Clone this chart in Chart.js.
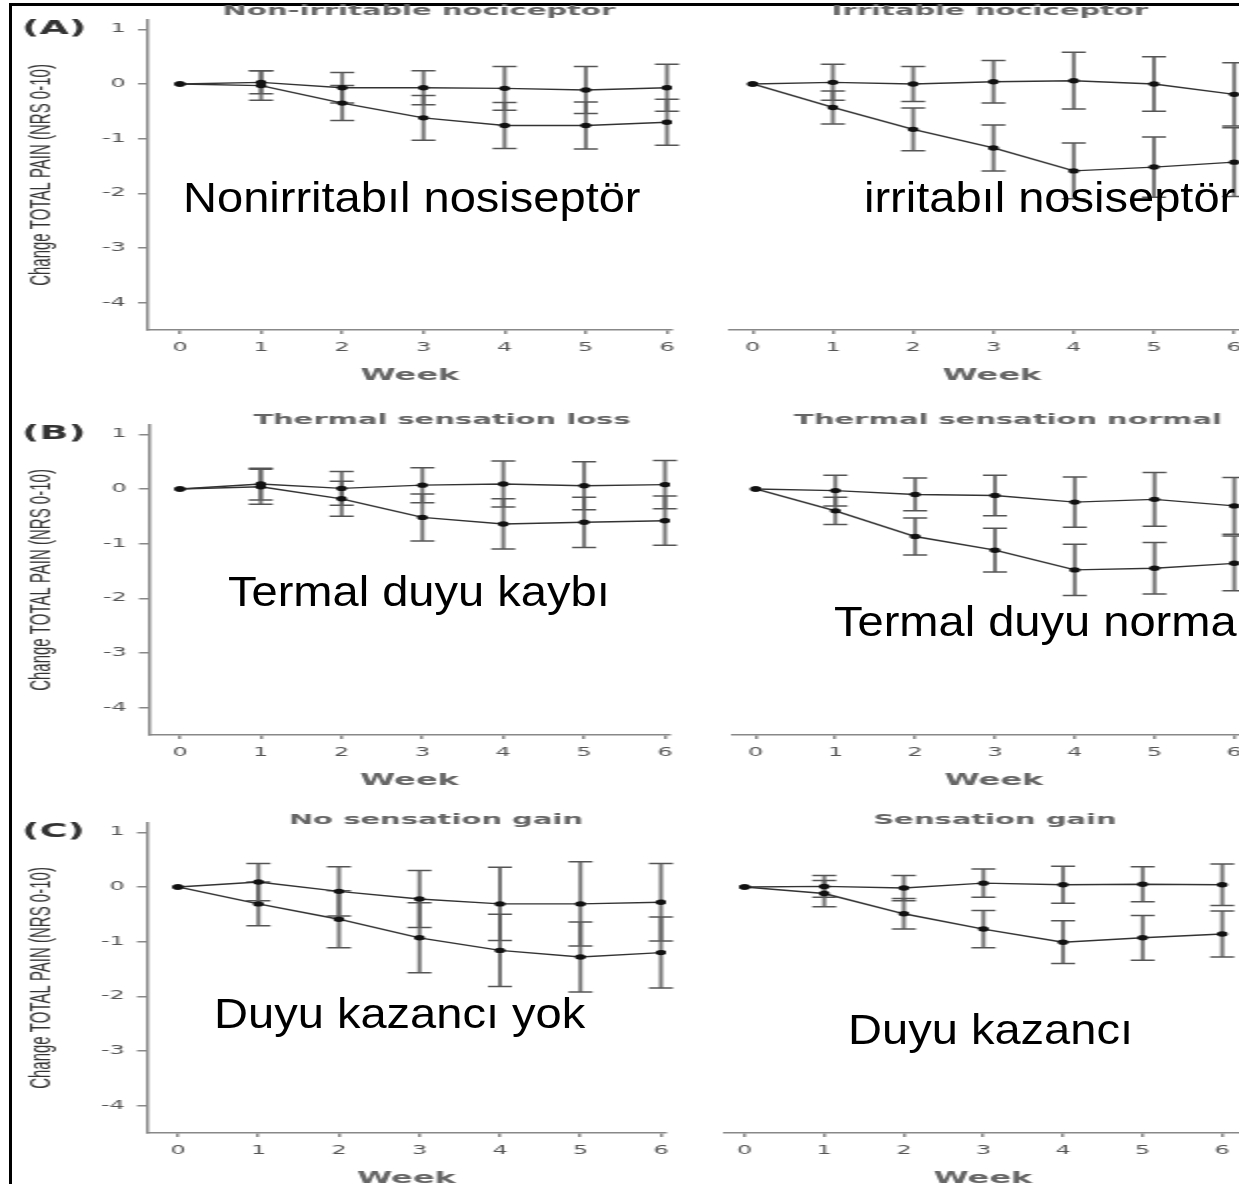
<!DOCTYPE html>
<html>
<head>
<meta charset="utf-8">
<script src="https://cdn.jsdelivr.net/npm/chart.js@4.4.1/dist/chart.umd.min.js"></script>
<style>
  html, body { margin: 0; padding: 0; background: #fff; }
  body { position: relative; width: 1239px; height: 1184px; overflow: hidden; }
  .panel { position: absolute; transform: scaleX(2); transform-origin: 0 0; }
  .note {
    position: absolute; font-family: "Liberation Sans", Arial, sans-serif;
    font-size: 42px; line-height: 1; color: #000; white-space: nowrap;
    transform: scaleX(1.12); transform-origin: 0 0;
  }
  .frame {
    position: absolute; left: 9px; top: 3px; width: 1400px; height: 1400px;
    border-left: 3px solid #000; border-top: 3px solid #000; pointer-events: none;
  }
</style>
</head>
<body>
<div class="frame"></div>
<script>
  // Data (change in total pain, NRS 0-10)
  const weeks  = [0, 1, 2, 3, 4, 5, 6];
  const yTicks = [1, 0, -1, -2, -3, -4];
  const rowLetters = ['(A)', '(B)', '(C)'];
  const panelTitles = [
    'Non-irritable nociceptor', 'Irritable nociceptor',
    'Thermal sensation loss', 'Thermal sensation normal',
    'No sensation gain', 'Sensation gain'
  ];
  const overlayLabels = [
    'Nonirritabıl nosiseptör', 'irritabıl nosiseptör',
    'Termal duyu kaybı', 'Termal duyu normal',
    'Duyu kazancı yok', 'Duyu kazancı'
  ];

  // upper (flat) line and lower (falling) line, with error half-widths
  const nonIrrUpper    = [0, 0.03, -0.07, -0.07, -0.08, -0.11, -0.07];
  const nonIrrUpperErr = [0, 0.21, 0.28, 0.31, 0.40, 0.43, 0.43];
  const nonIrrLower    = [0, -0.03, -0.35, -0.62, -0.76, -0.76, -0.70];
  const nonIrrLowerErr = [0, 0.27, 0.32, 0.41, 0.42, 0.43, 0.42];

  const irrUpper    = [0, 0.03, 0.00, 0.04, 0.06, 0.00, -0.19];
  const irrUpperErr = [0, 0.33, 0.32, 0.39, 0.52, 0.50, 0.58];
  const irrLower    = [0, -0.43, -0.83, -1.17, -1.59, -1.52, -1.43];
  const irrLowerErr = [0, 0.30, 0.39, 0.42, 0.51, 0.55, 0.63];

  const thermLossUpper    = [0, 0.09, 0.01, 0.07, 0.09, 0.06, 0.08];
  const thermLossUpperErr = [0, 0.29, 0.31, 0.32, 0.42, 0.44, 0.44];
  const thermLossLower    = [0, 0.04, -0.18, -0.52, -0.64, -0.61, -0.58];
  const thermLossLowerErr = [0, 0.32, 0.32, 0.43, 0.46, 0.46, 0.45];

  const thermNormUpper    = [0, -0.03, -0.10, -0.12, -0.24, -0.19, -0.31];
  const thermNormUpperErr = [0, 0.28, 0.30, 0.37, 0.46, 0.49, 0.52];
  const thermNormLower    = [0, -0.40, -0.87, -1.12, -1.48, -1.45, -1.36];
  const thermNormLowerErr = [0, 0.25, 0.34, 0.40, 0.47, 0.47, 0.50];

  const noGainUpper    = [0, 0.09, -0.08, -0.22, -0.31, -0.31, -0.28];
  const noGainUpperErr = [0, 0.34, 0.45, 0.52, 0.67, 0.77, 0.71];
  const noGainLower    = [0, -0.31, -0.59, -0.93, -1.16, -1.28, -1.20];
  const noGainLowerErr = [0, 0.40, 0.52, 0.64, 0.66, 0.64, 0.65];

  const gainUpper    = [0, 0.01, -0.02, 0.07, 0.04, 0.05, 0.04];
  const gainUpperErr = [0, 0.20, 0.23, 0.26, 0.34, 0.32, 0.38];
  const gainLower    = [0, -0.12, -0.49, -0.77, -1.01, -0.93, -0.86];
  const gainLowerErr = [0, 0.24, 0.28, 0.34, 0.39, 0.41, 0.42];

  const panelSeries = [
    [nonIrrUpper, nonIrrUpperErr, nonIrrLower, nonIrrLowerErr],
    [irrUpper, irrUpperErr, irrLower, irrLowerErr],
    [thermLossUpper, thermLossUpperErr, thermLossLower, thermLossLowerErr],
    [thermNormUpper, thermNormUpperErr, thermNormLower, thermNormLowerErr],
    [noGainUpper, noGainUpperErr, noGainLower, noGainLowerErr],
    [gainUpper, gainUpperErr, gainLower, gainLowerErr],
  ];

  // Layout (screen px). The original figure is stretched 2x sideways.
  const S = 2;
  const PAD_TOP = 18, AREA_H = 310, X_AXIS_H = 60;
  const rowTops   = [20, 425, 823];    // chart area top (y = 1.17)
  const titleRowY = [11.5, 420, 820];  // panel title centre
  const boxes = [
    { wx: 10,  axisStart: 148, axisEnd: 673,  x0: 180, x6: 668,  titleX: 419,  left: true },
    { wx: 722, axisStart: 722, axisEnd: 1254, x0: 745, x6: 1234, titleX: 990,  left: false },
    { wx: 10,  axisStart: 149, axisEnd: 671,  x0: 180, x6: 666,  titleX: 442,  left: true },
    { wx: 725, axisStart: 725, axisEnd: 1255, x0: 748, x6: 1234, titleX: 1008, left: false },
    { wx: 10,  axisStart: 147, axisEnd: 667,  x0: 178, x6: 662,  titleX: 436,  left: true },
    { wx: 717, axisStart: 717, axisEnd: 1241, x0: 737, x6: 1222, titleX: 995,  left: false },
  ];
  const notePos = [
    { x: 183, base: 213 }, { x: 864, base: 213 },
    { x: 228, base: 607 }, { x: 834, base: 637 },
    { x: 214, base: 1029 }, { x: 848, base: 1045 },
  ];

  // error bars drawn under lines/points
  const errorBars = {
    id: 'errorBars',
    beforeDatasetsDraw(chart) {
      const { ctx, scales: { x, y } } = chart;
      ctx.save();
      chart.data.datasets.forEach(ds => {
        ds.data.forEach((pt, i) => {
          const e = ds.errors[i];
          if (!e) return;
          const px = x.getPixelForValue(pt.x);
          const top = y.getPixelForValue(pt.y + e);
          const bot = y.getPixelForValue(pt.y - e);
          ctx.strokeStyle = 'rgba(95,95,95,0.85)';
          ctx.lineWidth = 2;
          ctx.beginPath(); ctx.moveTo(px, top); ctx.lineTo(px, bot); ctx.stroke();
          ctx.strokeStyle = '#555';
          ctx.lineWidth = 1.5;
          ctx.beginPath();
          ctx.moveTo(px - 6, top); ctx.lineTo(px + 6, top);
          ctx.moveTo(px - 6, bot); ctx.lineTo(px + 6, bot);
          ctx.stroke();
        });
      });
      ctx.restore();
    }
  };

  // panel title + row letter
  const panelText = {
    id: 'panelText',
    afterDraw(chart, args, opts) {
      const { ctx, scales } = chart;
      ctx.save();
      ctx.textAlign = 'center';
      ctx.textBaseline = 'middle';
      ctx.fillStyle = '#666';
      ctx.font = 'bold 14.5px "DejaVu Sans"';
      ctx.fillText(opts.title, opts.titleX, opts.titleY);
      if (opts.letter) {
        ctx.textAlign = 'left';
        ctx.fillStyle = '#333';
        ctx.font = 'bold 19px "DejaVu Sans"';
        ctx.fillText(opts.letter, 6, scales.y.getPixelForValue(1));
      }
      ctx.restore();
    }
  };

  const tickFont = { family: 'DejaVu Sans', size: 12 };

  boxes.forEach((b, p) => {
    const row = Math.floor(p / 2);
    const areaLeft  = (b.axisStart - b.wx) / S;
    const areaRight = (b.axisEnd - b.wx) / S;
    const c0 = (b.x0 - b.wx) / S, c6 = (b.x6 - b.wx) / S;
    const ppw = (c6 - c0) / 6;
    const xMin = (areaLeft - c0) / ppw;
    const xMax = 6 + (areaRight - c6) / ppw;
    const W = areaRight + 9;
    const H = PAD_TOP + AREA_H + X_AXIS_H;
    const top = rowTops[row] - PAD_TOP;

    const wrap = document.createElement('div');
    wrap.className = 'panel';
    wrap.style.left = b.wx + 'px';
    wrap.style.top = top + 'px';
    wrap.style.width = W + 'px';
    wrap.style.height = H + 'px';
    const canvas = document.createElement('canvas');
    canvas.width = W; canvas.height = H;
    wrap.appendChild(canvas);
    document.body.appendChild(wrap);

    const [upper, upperErr, lower, lowerErr] = panelSeries[p];
    const line = (vals, errs) => ({
      data: weeks.map((w, i) => ({ x: w, y: vals[i] })),
      errors: errs,
      borderColor: '#333',
      borderWidth: 1.4,
      pointRadius: 2.7,
      pointBorderWidth: 0,
      pointBackgroundColor: '#111',
      tension: 0,
    });

    new Chart(canvas, {
      type: 'line',
      data: { datasets: [line(upper, upperErr), line(lower, lowerErr)] },
      plugins: [errorBars, panelText],
      options: {
        responsive: false,
        animation: false,
        events: [],
        layout: { padding: { top: PAD_TOP, right: 9, left: 0, bottom: 0 } },
        plugins: {
          legend: { display: false },
          tooltip: { enabled: false },
          panelText: {
            title: panelTitles[p],
            titleX: (b.titleX - b.wx) / S,
            titleY: titleRowY[row] - top,
            letter: b.left ? rowLetters[row] : null,
          }
        },
        scales: {
          x: {
            type: 'linear',
            min: xMin, max: xMax,
            afterBuildTicks: s => { s.ticks = weeks.map(v => ({ value: v })); },
            afterFit: s => { s.height = X_AXIS_H; },
            border: { color: '#888', width: 1.5 },
            grid: { drawOnChartArea: false, tickLength: 4, color: '#888', lineWidth: 1.5 },
            ticks: { font: tickFont, color: '#555', padding: 6.8, maxRotation: 0, callback: v => String(v) },
            title: {
              display: true, text: 'Week', color: '#666',
              font: { family: 'DejaVu Sans', size: 16, weight: 'bold' },
              padding: { top: 0, bottom: 4.4 }
            }
          },
          y: {
            display: b.left,
            min: -4.5, max: 1.17,
            afterBuildTicks: s => { s.ticks = yTicks.map(v => ({ value: v })); },
            afterFit: s => { s.width = areaLeft; },
            border: { color: '#888', width: 1.5 },
            grid: { drawOnChartArea: false, tickLength: 5, color: '#888', lineWidth: 1.5 },
            ticks: { font: tickFont, color: '#555', padding: 6, callback: v => String(v) },
            title: {
              display: true, text: 'Change TOTAL PAIN (NRS 0-10)', color: '#333',
              font: { family: 'Liberation Sans', size: 15 },
              padding: { top: 6.5, bottom: 0 }
            }
          }
        }
      }
    });
  });

  // Turkish overlay captions
  overlayLabels.forEach((txt, i) => {
    const d = document.createElement('div');
    d.className = 'note';
    d.textContent = txt;
    d.style.left = notePos[i].x + 'px';
    d.style.top = (notePos[i].base - 35.6) + 'px';
    document.body.appendChild(d);
  });
</script>
</body>
</html>
